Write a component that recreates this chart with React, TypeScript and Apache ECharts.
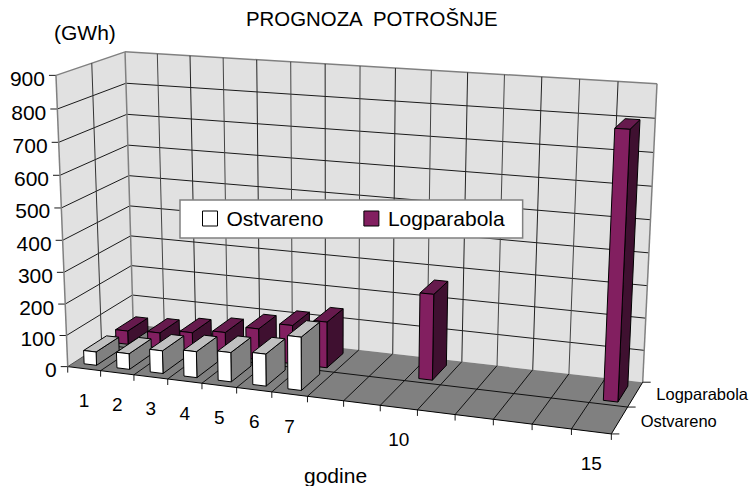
import React, { useEffect, useRef } from "react";
import * as echarts from "echarts";

const years = ["1","2","3","4","5","6","7","8","9","10","11","12","13","14","15"];
const yearLabels = ["1","2","3","4","5","6","7","","","10","","","","","15"];
const ostvareno = [43,50,72,82,92,100,165,null,null,null,null,null,null,null,null];
const logparabola = [44,50,63,76,100,123,146,null,null,268,null,null,null,null,803];
const yTicks = [0,100,200,300,400,500,600,700,800,900];
const depthNames = ["Ostvareno","Logparabola"];

const FONT = '"Liberation Sans", Arial, sans-serif';
const WALL = "#e1e1e1";
const FLOOR = "#808080";
const EDGE = "#808080";
const LINE = "#1a1a1a";

// Picture position of the plot box's corners: [x, depth, value] -> [px, py]
const CORNERS: number[][][] = [
  [[0,0,0],[68,366]],
  [[1,0,0],[611,435]],
  [[1,1,0],[643,381]],
  [[0,1,0],[133,325]],
  [[0,0,1],[56,75]],
  [[0,1,1],[125,52]],
  [[1,1,1],[657,84]],
];

function solveProjection(): number[] {
  const rows: number[][] = [];
  const rhs: number[] = [];
  for (const [[x, d, v], [X, Y]] of CORNERS) {
    rows.push([x,d,v,1,0,0,0,0,-X*x,-X*d,-X*v]); rhs.push(X);
    rows.push([0,0,0,0,x,d,v,1,-Y*x,-Y*d,-Y*v]); rhs.push(Y);
  }
  const n = 11;
  const M: number[][] = [];
  for (let i = 0; i < n; i++) {
    const r = new Array(n + 1).fill(0);
    for (let j = 0; j < n; j++) for (let k = 0; k < rows.length; k++) r[j] += rows[k][i] * rows[k][j];
    for (let k = 0; k < rows.length; k++) r[n] += rows[k][i] * rhs[k];
    M.push(r);
  }
  for (let i = 0; i < n; i++) {
    let p = i;
    for (let k = i + 1; k < n; k++) if (Math.abs(M[k][i]) > Math.abs(M[p][i])) p = k;
    [M[i], M[p]] = [M[p], M[i]];
    for (let k = 0; k < n; k++) {
      if (k === i) continue;
      const f = M[k][i] / M[i][i];
      for (let j = i; j <= n; j++) M[k][j] -= f * M[i][j];
    }
  }
  return M.map((r, i) => r[n] / r[i]);
}
const H = solveProjection();
function project(x: number, d: number, v: number): number[] {
  const w = H[8]*x + H[9]*d + H[10]*v + 1;
  return [(H[0]*x + H[1]*d + H[2]*v + H[3]) / w, (H[4]*x + H[5]*d + H[6]*v + H[7]) / w];
}

const seg = (a: number[], b: number[], stroke: string, lineWidth = 1) => ({
  type: "line", silent: true,
  shape: { x1: a[0], y1: a[1], x2: b[0], y2: b[1] },
  style: { stroke, lineWidth },
});
const poly = (points: number[][], fill: string, stroke?: string, lineWidth = 1) => ({
  type: "polygon", silent: true,
  shape: { points },
  style: { fill, stroke: stroke || "none", lineWidth, lineJoin: "round" },
});
const label = (text: string, x: number, y: number, size: number, align = "center") => ({
  type: "text", silent: true,
  style: { text, x, y, fill: "#000", font: `${size}px ${FONT}`, textAlign: align, textVerticalAlign: "middle" },
});

function renderFrame(params: any, api: any) {
  const cs = params.coordSys;
  const n = years.length;
  const out: any[] = [];
  out.push(poly([project(0,0,0),project(0,1,0),project(0,1,1),project(0,0,1)], WALL));
  out.push(poly([project(0,1,0),project(1,1,0),project(1,1,1),project(0,1,1)], WALL));
  out.push(poly([project(0,0,0),project(1,0,0),project(1,1,0),project(0,1,0)], FLOOR));

  for (const t of yTicks) {
    const py = api.coord([0, t])[1];
    const v = (cs.y + cs.height - py) / cs.height;
    const isTop = t === yTicks[yTicks.length - 1];
    const c = isTop ? EDGE : LINE;
    const w = isTop ? 1.5 : 1;
    const a = project(0,0,v), b = project(0,1,v), e = project(1,1,v);
    if (t !== 0) { out.push(seg(a, b, c, w)); out.push(seg(b, e, c, w)); }
    out.push(seg(a, [a[0]-7, a[1]], LINE));
    out.push(label(String(t), a[0]-11, a[1]+3, 21, "right"));
  }
  for (let i = 0; i <= n; i++) {
    const x = i / n;
    const a = project(x,0,0), b = project(x,1,0), t = project(x,1,1);
    const edge = i === 0 || i === n;
    out.push(seg(b, t, edge ? EDGE : (i % 2 ? "#444" : "#222"), edge ? 1.5 : 1));
    if (!edge) out.push(seg(a, b, "#111"));
    out.push(seg(a, [a[0], a[1]+6], LINE));
  }
  const mA = project(0,0.5,0), mB = project(1,0.5,0), mT = project(0,0.5,1);
  out.push(seg(mA, mB, "#111"));
  out.push(seg(mA, mT, "#333"));
  out.push(seg(project(0,0,0), project(0,0,1), EDGE, 1.5));
  out.push(seg(project(0,0,0), project(1,0,0), "#000"));
  out.push(seg(project(0,0,0), project(0,1,0), "#555"));
  out.push(seg(project(1,0,0), project(1,1,0), "#000"));
  [0, 0.5, 1].forEach((d) => { const p = project(1,d,0); out.push(seg(p, [p[0]+8, p[1]], LINE)); });

  yearLabels.forEach((t, i) => {
    if (!t) return;
    const p = project((i + 0.5) / n, 0, 0);
    out.push(label(t, p[0], p[1] + 32, 19));
  });
  depthNames.forEach((t, i) => {
    const p = project(1, 0.25 + i * 0.5, 0);
    out.push(label(t, p[0] + (i ? 21 : 21), p[1] + (i ? 0 : 1), 16.5, "left"));
  });
  return { type: "group", children: out };
}

const barRenderer = (d0: number, d1: number, front: string, top: string, side: string) =>
  (params: any, api: any) => {
    const cs = params.coordSys;
    const c = api.coord([api.value(0), api.value(1)]);
    const band = api.size([1, 0])[0];
    const u = (c[0] - cs.x) / cs.width;
    const hw = (0.19 * band) / cs.width;
    const v = (cs.y + cs.height - c[1]) / cs.height;
    const x0 = u - hw, x1 = u + hw;
    const stroke = "#000";
    return {
      type: "group",
      children: [
        poly([project(x1,d0,0),project(x1,d1,0),project(x1,d1,v),project(x1,d0,v)], side, stroke),
        poly([project(x0,d0,v),project(x1,d0,v),project(x1,d1,v),project(x0,d1,v)], top, stroke),
        poly([project(x0,d0,0),project(x1,d0,0),project(x1,d0,v),project(x0,d0,v)], front, stroke),
      ],
    };
  };

const rows = (values: (number | null)[]) =>
  values.map((v, i) => (v == null ? null : [i, v])).filter(Boolean);

export default function App() {
  const ref = useRef<HTMLDivElement>(null);
  useEffect(() => {
    const chart = echarts.init(ref.current!, null, { renderer: "svg" });
    chart.setOption({
      animation: false,
      backgroundColor: "#fff",
      title: [
        { text: "PROGNOZA  POTROŠNJE", left: 241, top: 4, textStyle: { fontFamily: FONT, fontSize: 20.4, fontWeight: "normal", color: "#000" } },
        { text: "(GWh)", left: 49, top: 17, textStyle: { fontFamily: FONT, fontSize: 21, fontWeight: "normal", color: "#000" } },
        { text: "godine", left: 299, top: 460, textStyle: { fontFamily: FONT, fontSize: 21, fontWeight: "normal", color: "#000" } },
      ],
      legend: {
        left: 180, top: 200, padding: [8, 18, 9, 22], itemGap: 40, itemWidth: 15, itemHeight: 15,
        backgroundColor: "#fff", borderColor: "#808080", borderWidth: 1.5, selectedMode: false,
        textStyle: { fontFamily: FONT, fontSize: 21, color: "#000", padding: [0, 0, 0, 4] },
        data: [
          { name: "Ostvareno", icon: "rect", itemStyle: { color: "#fff", borderColor: "#000", borderWidth: 1 } },
          { name: "Logparabola", icon: "rect", itemStyle: { color: "#821f60", borderColor: "#000", borderWidth: 1 } },
        ],
      },
      grid: { left: 0, top: 0, width: 751, height: 486 },
      xAxis: { type: "category", data: years, show: false },
      yAxis: { type: "value", min: 0, max: 900, interval: 100, show: false },
      series: [
        { type: "custom", name: "frame", silent: true, data: [[0, 0]], renderItem: renderFrame, z: 1 },
        { type: "custom", name: "Logparabola", data: rows(logparabola), z: 2, silent: true,
          itemStyle: { color: "#821f60" }, renderItem: barRenderer(0.57, 0.89, "#821f60", "#661a4d", "#3f1030") },
        { type: "custom", name: "Ostvareno", data: rows(ostvareno), z: 3, silent: true,
          itemStyle: { color: "#fff" }, renderItem: barRenderer(0.09, 0.43, "#ffffff", "#c0c0c0", "#808080") },
      ],
    });
    return () => chart.dispose();
  }, []);
  return <div ref={ref} style={{ position: "absolute", left: 0, top: 0, width: 751, height: 486 }} />;
}
